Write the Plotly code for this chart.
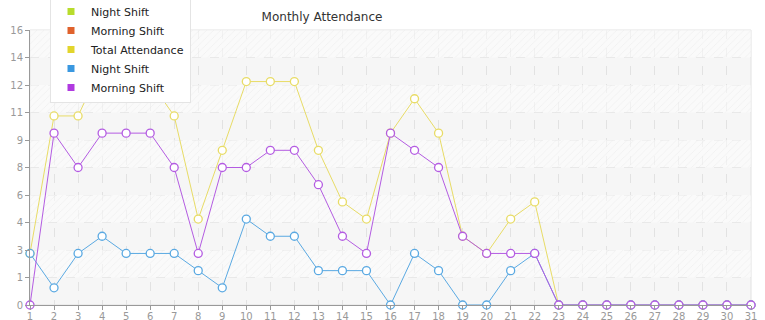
import plotly.graph_objects as go

days = list(range(1, 32))
night_shift = [3, 1, 3, 4, 3, 3, 3, 2, 1, 5, 4, 4, 2, 2, 2, 0, 3, 2, 0, 0, 2, 3,
               0, 0, 0, 0, 0, 0, 0, 0, 0]
morning_shift = [0, 10, 8, 10, 10, 10, 8, 3, 8, 8, 9, 9, 7, 4, 3, 10, 9, 8, 4, 3, 3, 3,
                 0, 0, 0, 0, 0, 0, 0, 0, 0]
total_attendance = [3, 11, 11, 14, 13, 13, 11, 5, 9, 13, 13, 13, 9, 6, 5, 10, 12, 10, 4, 3, 5, 6,
                    0, 0, 0, 0, 0, 0, 0, 0, 0]

y_tickvals = [0, 1.6, 3.2, 4.8, 6.4, 8.0, 9.6, 11.2, 12.8, 14.4, 16]
y_ticktext = ["0", "1", "3", "4", "6", "8", "9", "11", "12", "14", "16"]

legend_names = ["Night Shift", "Morning Shift", "Total Attendance", "Night Shift", "Morning Shift"]
legend_colors = ["#b8dc2c", "#e0622c", "#e2d52c", "#3a98e0", "#b03ae0"]

line_series = [
    ("Total Attendance", total_attendance, "#e8dc66"),
    ("Night Shift", night_shift, "#5aa9e2"),
    ("Morning Shift", morning_shift, "#b45ce2"),
]

font = "DejaVu Sans"
fig = go.Figure()

# hatched alternating background bands
band_bases = y_tickvals[1:-1:2]
fig.add_trace(go.Bar(
    x=[16] * len(band_bases), y=[1.6] * len(band_bases), base=band_bases,
    width=30, showlegend=False, hoverinfo="skip",
    marker=dict(color="rgba(253,253,253,0.55)", line_width=0,
                pattern=dict(shape="/", fgcolor="rgba(222,222,222,0.65)",
                             bgcolor="rgba(253,253,253,0.55)",
                             size=5, solidity=0.15)),
))

for name, vals, color in line_series:
    fig.add_trace(go.Scatter(
        x=days, y=vals, mode="lines+markers", name=name, showlegend=False,
        line=dict(color=color, width=1),
        marker=dict(symbol="circle", size=8, color="white",
                    line=dict(color=color, width=1.3)),
        cliponaxis=False,
    ))

for name, color in zip(legend_names, legend_colors):
    fig.add_trace(go.Scatter(
        x=[None], y=[None], mode="markers", name=name,
        marker=dict(symbol="square", size=7, color=color),
    ))

fig.update_layout(
    width=765, height=320,
    margin=dict(l=30, r=14, t=30, b=15, autoexpand=False),
    paper_bgcolor="white",
    plot_bgcolor="#f6f6f6",
    barmode="overlay",
    font=dict(family=font, size=10, color="#999999"),
    title=dict(text="Monthly Attendance", x=322 / 765, xanchor="center",
               y=1 - 17 / 320, yanchor="middle",
               font=dict(family=font, size=12, color="#333333")),
    legend=dict(x=20 / 721, xanchor="left", y=309 / 275, yanchor="top",
                bgcolor="white", bordercolor="#e4e4e4", borderwidth=1,
                font=dict(family=font, size=11, color="#222222"),
                tracegroupgap=0),
    xaxis=dict(range=[1, 31], tickmode="linear", tick0=1, dtick=1,
               showgrid=True, gridcolor="#e2e2e2", griddash="dash", gridwidth=1,
               showline=True, linecolor="#999999", linewidth=1,
               ticks="outside", ticklen=4, tickcolor="#999999",
               ticklabelstandoff=-2,
               zeroline=False, fixedrange=True, automargin=False),
    yaxis=dict(range=[0, 16], tickmode="array", tickvals=y_tickvals, ticktext=y_ticktext,
               showgrid=True, gridcolor="#e2e2e2", griddash="dash", gridwidth=1,
               showline=True, linecolor="#999999", linewidth=1,
               ticks="outside", ticklen=4, tickcolor="#999999",
               zeroline=False, fixedrange=True, automargin=False),
    shapes=[dict(type="rect", xref="paper", yref="paper", x0=0, x1=1, y0=0, y1=1,
                 line=dict(color="#e2e2e2", width=1), layer="below")],
)

fig.write_html("out.html")
